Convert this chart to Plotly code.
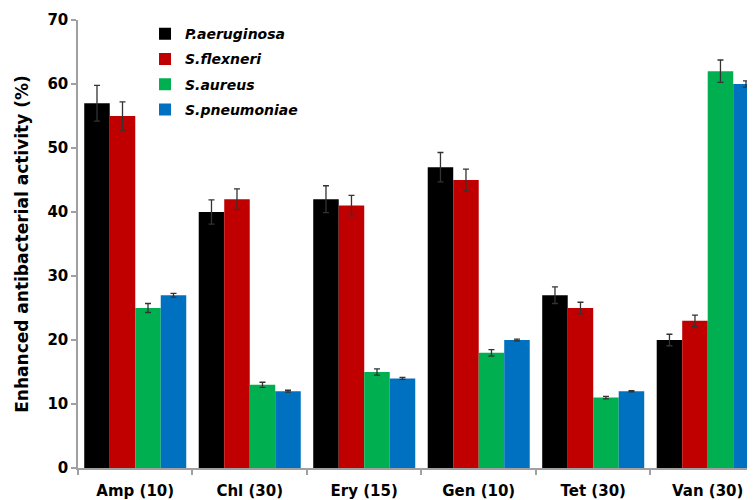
import plotly.graph_objects as go

categories = ["Amp (10)", "Chl (30)", "Ery (15)", "Gen (10)", "Tet (30)", "Van (30)"]
series_names = ["P.aeruginosa", "S.flexneri", "S.aureus", "S.pneumoniae"]
colors = ["#000000", "#C00000", "#00B050", "#0070C0"]

pa_vals = [57, 40, 42, 47, 27, 20]
pa_err = [2.8, 1.9, 2.1, 2.3, 1.3, 0.9]
sf_vals = [55, 42, 41, 45, 25, 23]
sf_err = [2.2, 1.6, 1.6, 1.7, 0.9, 0.9]
sa_vals = [25, 13, 15, 18, 11, 62]
sa_err = [0.7, 0.4, 0.5, 0.5, 0.2, 1.75]
sp_vals = [27, 12, 14, 20, 12, 60]
sp_err = [0.3, 0.15, 0.15, 0.15, 0.1, 0.5]

y_ticks = [0, 10, 20, 30, 40, 50, 60, 70]

values = [pa_vals, sf_vals, sa_vals, sp_vals]
errors = [pa_err, sf_err, sa_err, sp_err]

FONT = "DejaVu Sans"

fig = go.Figure()
for name, col, v, e in zip(series_names, colors, values, errors):
    fig.add_trace(go.Bar(
        x=categories, y=v, name=name, legendgroup=name,
        marker=dict(color=col, line=dict(width=0)),
        error_y=dict(type="data", array=e, visible=True,
                     color="#333333", thickness=1.3, width=3),
    ))

fig.update_layout(
    width=747, height=492,
    margin=dict(l=70, r=0, t=12, b=32),
    paper_bgcolor="white", plot_bgcolor="white",
    barmode="group", bargap=0.109, bargroupgap=0,
    font=dict(family=FONT, color="#000000"),
    showlegend=True,
    legend=dict(
        x=0.099, y=1.004, xanchor="left", yanchor="top",
        bgcolor="rgba(0,0,0,0)",
        font=dict(family=FONT, size=14, style="italic", weight="bold"),
        traceorder="grouped", tracegroupgap=4,
    ),
    xaxis=dict(
        range=[-0.5, 5.413],
        showline=True, linecolor="#A0A0A0", linewidth=1.5,
        ticks="outside", tickson="boundaries", ticklen=5,
        tickcolor="#A0A0A0", tickwidth=1.5,
        tickfont=dict(family=FONT, size=15, weight="bold"),
        ticklabelstandoff=8,
        showgrid=False, zeroline=False,
    ),
    yaxis=dict(
        range=[0, 70], tickvals=y_ticks,
        showline=True, linecolor="#A0A0A0", linewidth=1.5,
        ticks="outside", ticklen=5, tickcolor="#A0A0A0", tickwidth=1.5,
        tickfont=dict(family=FONT, size=15, weight="bold"),
        showgrid=False, zeroline=False,
        title=dict(text="Enhanced antibacterial activity (%)",
                   font=dict(family=FONT, size=17, weight="bold"),
                   standoff=14),
    ),
)

fig.write_html("out.html")
